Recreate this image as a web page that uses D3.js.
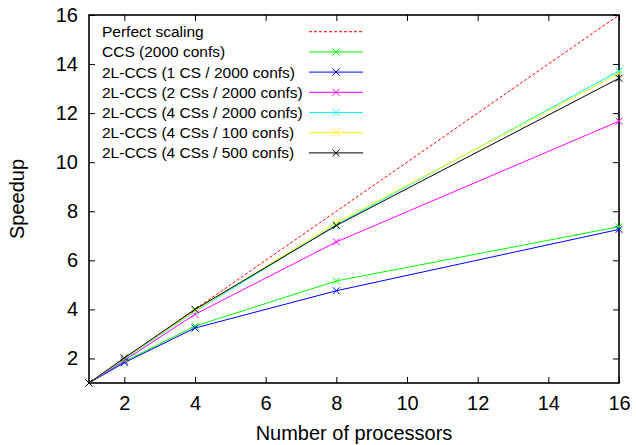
<!doctype html>
<html>
<head>
<style>
    body { margin: 0; background: #fff; font-family: "Liberation Sans", Arial, sans-serif; }
    .tick text { font-size: 20px; fill: #000; }
</style>
<script src="https://d3js.org/d3.v7.min.js"></script>
</head>
<body>
<div id="chart"></div>
<script>
    // processors on x axis
    var procs = [1, 2, 4, 8, 16];

    var seriesNames = ["Perfect scaling", "CCS (2000 confs)", "2L-CCS (1 CS / 2000 confs)",
        "2L-CCS (2 CSs / 2000 confs)", "2L-CCS (4 CSs / 2000 confs)",
        "2L-CCS (4 CSs / 100 confs)", "2L-CCS (4 CSs / 500 confs)"];
    var seriesColors = ["#ff0000", "#00ff00", "#0000ff", "#ff00ff", "#00ffff", "#ffff00", "#000000"];

    var perfect = [1, 2, 4, 8, 16];
    var ccs2000 = [1, 1.87, 3.32, 5.16, 7.37];
    var cs1_2000 = [1, 1.83, 3.24, 4.76, 7.26];
    var cs2_2000 = [1, 1.92, 3.8, 6.75, 11.67];
    var cs4_2000 = [1, 1.97, 3.92, 7.45, 13.72];
    var cs4_100 = [1, 2.0, 3.95, 7.53, 13.62];
    var cs4_500 = [1, 2.02, 4.0, 7.42, 13.42];

    var seriesValues = [perfect, ccs2000, cs1_2000, cs2_2000, cs4_2000, cs4_100, cs4_500];

    var xTicks = [2, 4, 6, 8, 10, 12, 14, 16];
    var yTicks = [2, 4, 6, 8, 10, 12, 14, 16];

    var W = 636, H = 445;
    var margin = {top: 15, right: 17, bottom: 62, left: 89};
    var width = W - margin.left - margin.right,
        height = H - margin.top - margin.bottom;

    var svg = d3.select("#chart").append("svg")
        .attr("width", W).attr("height", H)
        .append("g")
        .attr("transform", "translate(" + margin.left + "," + margin.top + ")");

    var x = d3.scaleLinear().domain([1, 16]).range([0, width]);
    var y = d3.scaleLinear().domain([1, 16]).range([height, 0]);

    // axes, ticks pointing inward, mirrored on top/right
    svg.append("g")
        .attr("transform", "translate(0," + height + ")")
        .call(d3.axisBottom(x).tickValues(xTicks).tickSizeInner(-6).tickSizeOuter(0).tickPadding(13));
    svg.append("g")
        .call(d3.axisTop(x).tickValues(xTicks).tickSizeInner(-6).tickSizeOuter(0).tickFormat(""));
    svg.append("g")
        .call(d3.axisLeft(y).tickValues(yTicks).tickSizeInner(-6).tickSizeOuter(0).tickPadding(11));
    svg.append("g")
        .attr("transform", "translate(" + width + ",0)")
        .call(d3.axisRight(y).tickValues(yTicks).tickSizeInner(-6).tickSizeOuter(0).tickFormat(""));
    svg.selectAll(".domain").remove();
    svg.selectAll(".tick line").attr("stroke", "#000").attr("stroke-width", 1);
    svg.selectAll(".tick text").style("font-family", "Liberation Sans, Arial, sans-serif");

    svg.append("rect")
        .attr("width", width).attr("height", height)
        .attr("fill", "none").attr("stroke", "#000").attr("stroke-width", 1.6);

    var line = d3.line()
        .x(function(d, i) { return x(procs[i]); })
        .y(function(d) { return y(d); });

    function cross(g, cx, cy, color) {
        var s = 3.5;
        g.append("path")
            .attr("d", "M" + (cx - s) + "," + (cy - s) + "L" + (cx + s) + "," + (cy + s) +
                       "M" + (cx - s) + "," + (cy + s) + "L" + (cx + s) + "," + (cy - s))
            .attr("stroke", color).attr("stroke-width", 1).attr("fill", "none");
    }

    // legend
    var legend = svg.append("g");
    seriesNames.forEach(function(name, i) {
        var ly = 16.7 + i * 20.2;
        legend.append("text")
            .attr("x", 13).attr("y", ly)
            .attr("dy", "0.35em")
            .style("font-size", "15.5px")
            .text(name);
        legend.append("line")
            .attr("x1", 220).attr("x2", 274)
            .attr("y1", ly).attr("y2", ly)
            .attr("stroke", seriesColors[i]).attr("stroke-width", 1)
            .attr("stroke-dasharray", i === 0 ? "3,2" : null);
        if (i > 0) cross(legend, 247, ly, seriesColors[i]);
    });

    // series
    seriesValues.forEach(function(vals, i) {
        var g = svg.append("g");
        g.append("path")
            .datum(vals)
            .attr("d", line)
            .attr("fill", "none")
            .attr("stroke", seriesColors[i])
            .attr("stroke-width", 1)
            .attr("stroke-dasharray", i === 0 ? "3,2" : null);
        if (i > 0) {
            vals.forEach(function(v, j) { cross(g, x(procs[j]), y(v), seriesColors[i]); });
        }
    });

    // axis labels
    svg.append("text")
        .attr("x", width / 2).attr("y", height + 57)
        .attr("text-anchor", "middle")
        .style("font-size", "20px")
        .text("Number of processors");
    svg.append("text")
        .attr("transform", "rotate(-90)")
        .attr("x", -height / 2).attr("y", -65)
        .attr("text-anchor", "middle")
        .style("font-size", "20px")
        .text("Speedup");
</script>
</body>
</html>
